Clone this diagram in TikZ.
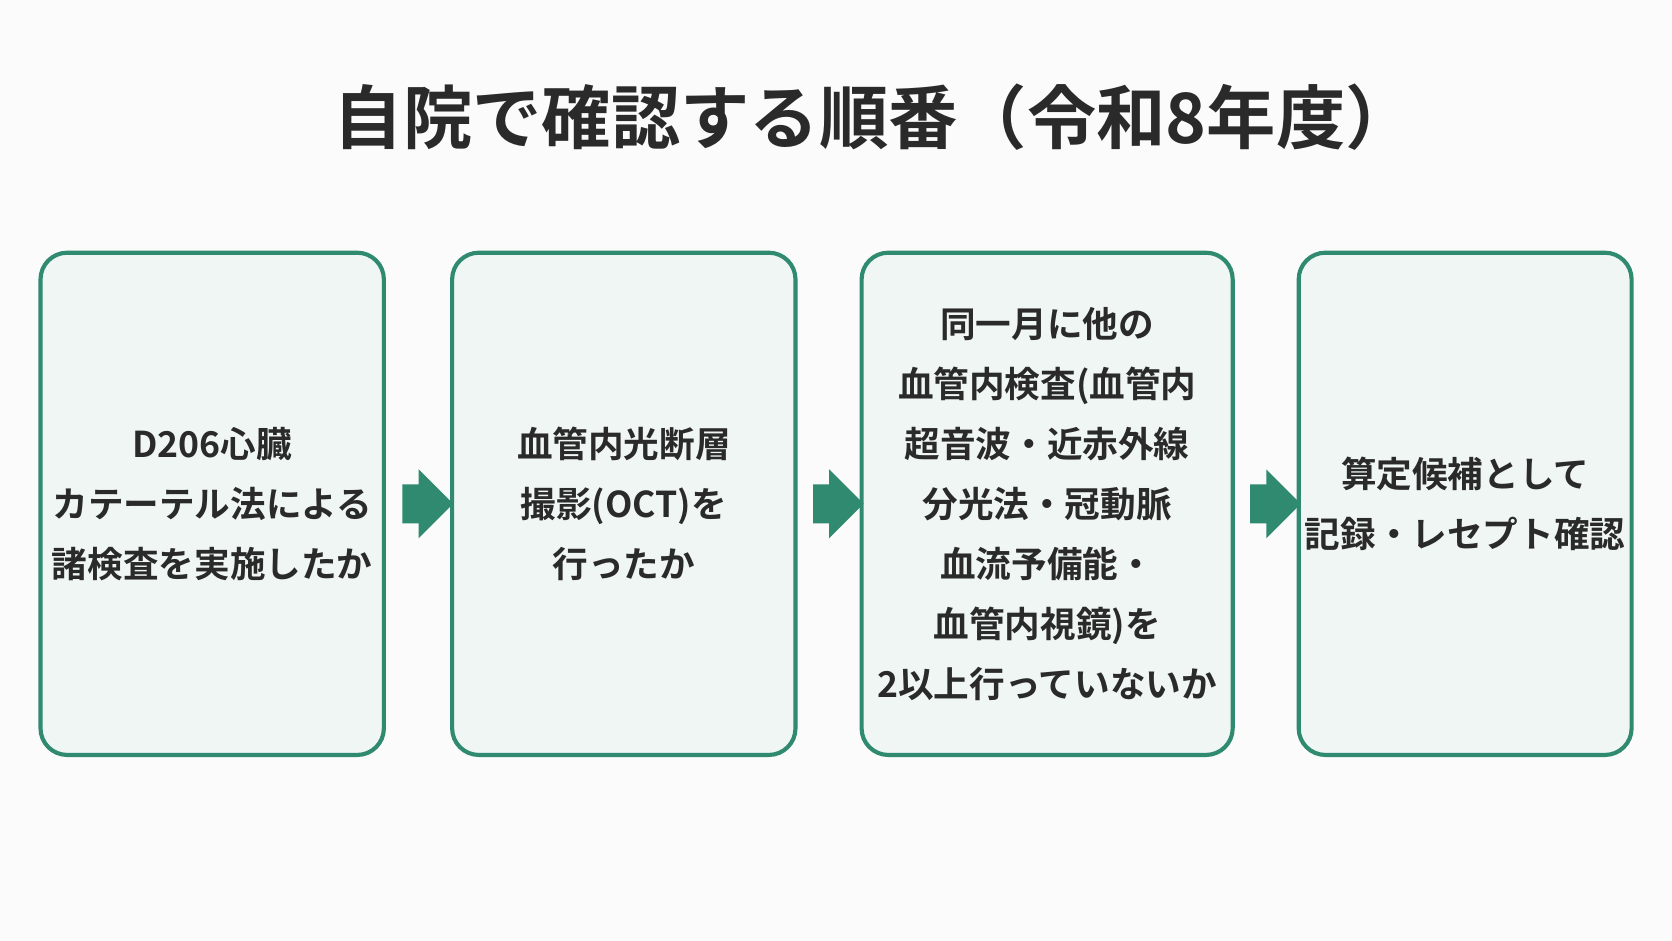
\documentclass[tikz,border=0pt]{standalone}
\usepackage{fontspec}
\setmainfont{Noto Sans CJK JP}[BoldFont={Noto Sans CJK JP Bold}]
\usetikzlibrary{calc}
\usetikzlibrary{shapes.arrows}
\definecolor{teal}{HTML}{2F8A70}
\definecolor{boxfill}{HTML}{EFF6F4}
\definecolor{ink}{HTML}{2A2A2A}
\tikzset{
	stage/.style={
		draw=teal,
		fill=boxfill,
		line width=2.2pt,
		rectangle,
		align=center,
		minimum height=9.42cm,
		rounded corners=.5cm,
		font=\fontsize{19}{32}\selectfont\bfseries,
		text=ink
	},
	flow/.style={
		single arrow,
		fill=teal,
		text height=0pt,
		text depth=0pt,
		inner xsep=0pt,
		inner ysep=0.36cm,
		minimum height=0.95cm,
		single arrow head extend=0.28cm,
		single arrow head indent=0pt
	}
}
\begin{document}
\begin{tikzpicture}
				\fill[white!97!gray] (0,0) rectangle (31.36,17.64);
				\useasboundingbox (0,0) rectangle (31.36,17.64);
				\node[font=\fontsize{37}{42}\selectfont\bfseries, text=ink](title) at (16.4,15.44){自院で確認する順番（令和8年度）};
				
				\node[stage, minimum width=6.44cm](S1) at (3.98,8.19){D206心臓\\カテーテル法による\\諸検査を実施したか};
				\node[stage, minimum width=6.44cm](S2) at (11.7,8.19){血管内光断層\\撮影(OCT)を\\行ったか};
				\node[stage, minimum width=6.96cm](S3) at (19.64,8.19){同一月に他の\\血管内検査(血管内\\超音波・近赤外線\\分光法・冠動脈\\血流予備能・\\血管内視鏡)を\\2以上行っていないか};
				\node[stage, minimum width=6.24cm](S4) at (27.48,8.19){算定候補として\\記録・レセプト確認};
				
				\node[flow] (A1) at ($(S1.east)!0.5!(S2.west)$){};
				\node[flow] (A2) at ($(S2.east)!0.5!(S3.west)$){};
				\node[flow] (A3) at ($(S3.east)!0.5!(S4.west)$){};
			\end{tikzpicture}
\end{document}
